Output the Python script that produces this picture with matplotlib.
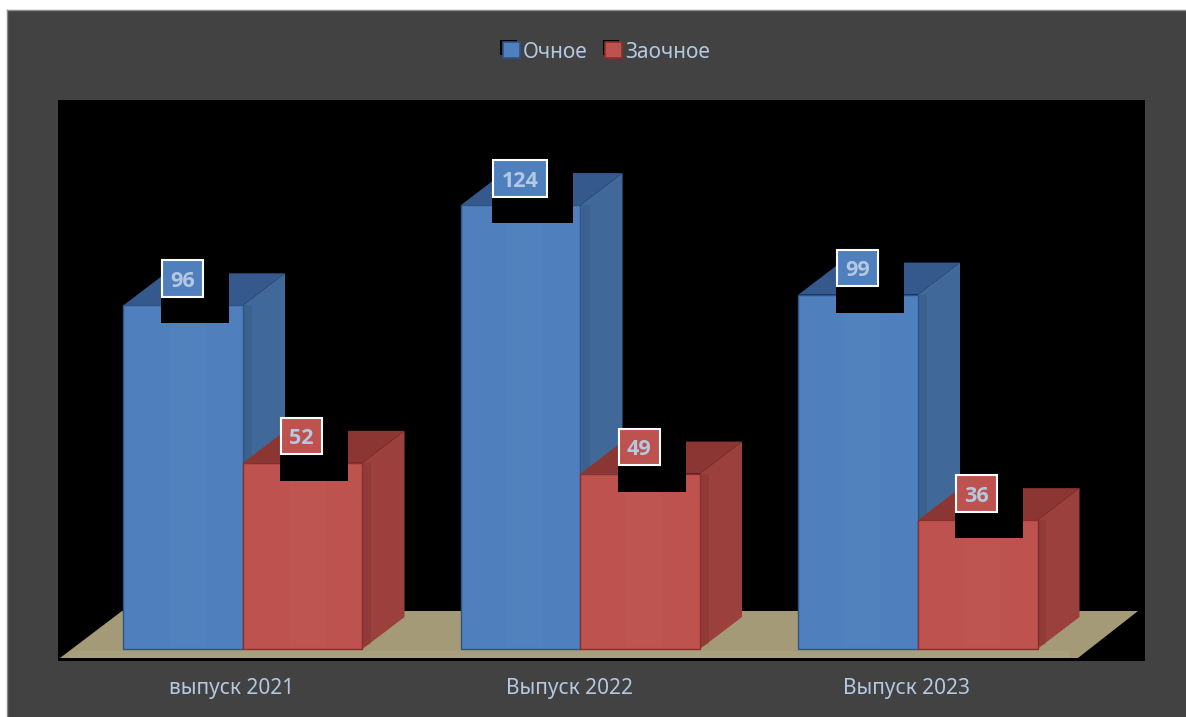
import matplotlib
matplotlib.use("Agg")
import matplotlib.pyplot as plt
from matplotlib.patches import Polygon, Rectangle, Patch
from matplotlib.patheffects import SimplePatchShadow, Normal

categories = ["выпуск 2021", "Выпуск 2022", "Выпуск 2023"]
series_names = ["Очное", "Заочное"]
full_time = [96, 124, 99]
part_time = [52, 49, 36]
series = [full_time, part_time]

W, H = 1186, 717
TXT = "#b4c8e0"
FAMILY = ["Noto Sans", "DejaVu Sans"]
LABEL_FAMILY = ["Open Sans", "DejaVu Sans"]

# colours: front, side, top, edge
STYLE = [
    ("#4f80bd", "#40699a", "#35598c", "#2c5486"),
    ("#bd524e", "#9c403d", "#8c3633", "#8a2f2c"),
]

fig = plt.figure(figsize=(W / 100, H / 100), dpi=100, facecolor="white")

# dark panel
panel = fig.add_axes([7 / W, 0, (W - 7) / W, (H - 10) / H])
panel.set_facecolor("#424242")
panel.set_xticks([])
panel.set_yticks([])
for s in ("right", "bottom"):
    panel.spines[s].set_visible(False)
for s in ("left", "top"):
    panel.spines[s].set_color("#8a8a8a")
    panel.spines[s].set_linewidth(1.0)

# plot area, pixel box 58..1145 x 100..661
L, R, T, B = 58, 1145, 100, 661
ax = fig.add_axes([L / W, (H - B) / H, (R - L) / W, (B - T) / H])
ax.set_facecolor("black")
PX_X = 337.5          # pixels per category
PX_Y = 3.58           # pixels per unit
X0 = 243              # pixel of category 0 centre
Y0 = 649              # pixel of value 0
ax.set_xlim((L - X0) / PX_X, (R - X0) / PX_X)
ax.set_ylim((Y0 - B) / PX_Y, (Y0 - T) / PX_Y)
for s in ax.spines.values():
    s.set_visible(False)


def px(dx):
    return dx / PX_X


def py(dy):
    return dy / PX_Y


BW = px(119.5)
DX, DY = px(42), py(32)

# floor, with the lighter front band
ax.add_patch(Polygon(
    [(px(60 - X0), py(Y0 - 658)), (px(1078 - X0), py(Y0 - 658)),
     (px(1138 - X0), py(Y0 - 611)), (px(122 - X0), py(Y0 - 611))],
    closed=True, facecolor="#a59a78", edgecolor="none", zorder=1))
ax.add_patch(Rectangle((px(70 - X0), py(Y0 - 658)), px(1000), py(7),
                       facecolor="#a8a07c", edgecolor="none", zorder=1.1))

# bars
label_jobs = []
for c in range(len(categories)):
    for k, vals in enumerate(series):
        v = vals[c]
        x = c + (k - 1) * BW
        front, side, top, edge = STYLE[k]
        z = 2 + c * 2 + k * 0.5
        ax.add_patch(Polygon([(x + BW, 0), (x + BW + DX, DY), (x + BW + DX, v + DY), (x + BW, v)],
                             closed=True, facecolor=side, edgecolor="none", zorder=z))
        ax.add_patch(Polygon([(x, v), (x + BW, v), (x + BW + DX, v + DY), (x + DX, v + DY)],
                             closed=True, facecolor=top, edgecolor="none", zorder=z))
        ax.add_patch(Rectangle((x, 0), BW, v, facecolor=front, edgecolor=edge,
                               linewidth=1.0, zorder=z + 0.1))
        # faint inner bands of the bevel on the front and side faces
        ax.add_patch(Rectangle((x + px(46), py(2)), px(36), v - py(4), facecolor="white",
                               alpha=0.02, edgecolor="none", zorder=z + 0.2))
        ax.add_patch(Rectangle((x + BW + px(1), py(4)), px(8), v - py(4), facecolor="black",
                               alpha=0.07, edgecolor="none", zorder=z + 0.2))
        label_jobs.append((x + BW / 2 - px(1), v, k))

# value labels with their black backing blocks
for xc, v, k in label_jobs:
    text = str(v)
    bw = 54 if len(text) == 3 else 41
    left = xc - px(bw / 2 + 1)
    top_px = 45
    ax.add_patch(Rectangle((left, v + py(top_px - 63)),
                           px(bw + 27), py(63), facecolor="black", edgecolor="none",
                           zorder=20, clip_on=False))
    ax.add_patch(Rectangle((xc - px(bw / 2), v + py(8.5)), px(bw), py(36.5),
                           facecolor=STYLE[k][0], edgecolor="white", linewidth=1.5, zorder=21))
    ax.annotate(text, (xc, v + py(26.5)), ha="center", va="center_baseline", zorder=22,
                fontsize=15.5, fontweight="bold", color=TXT, family=LABEL_FAMILY)

# category labels
ax.set_xticks([c - px(11) for c in range(len(categories))])
ax.set_xticklabels(categories, fontsize=15, color=TXT, family=FAMILY)
ax.tick_params(axis="x", length=0, pad=12)
ax.set_yticks([])

# legend
shadow = [SimplePatchShadow(offset=(-2, 2), shadow_rgbFace="black", alpha=1), Normal()]
handles = [Patch(facecolor=STYLE[k][0], edgecolor=STYLE[k][3], linewidth=1.2,
                 path_effects=shadow, label=series_names[k]) for k in range(2)]
fig.legend(handles=handles, loc="center", bbox_to_anchor=(606.5 / W, (H - 52) / H), ncol=2,
           frameon=False, handlelength=0.8, handleheight=0.8, handletextpad=0.15,
           columnspacing=0.85, prop={"family": FAMILY, "size": 15}, labelcolor=TXT)

fig.savefig("out.png", dpi=100, facecolor="white")
